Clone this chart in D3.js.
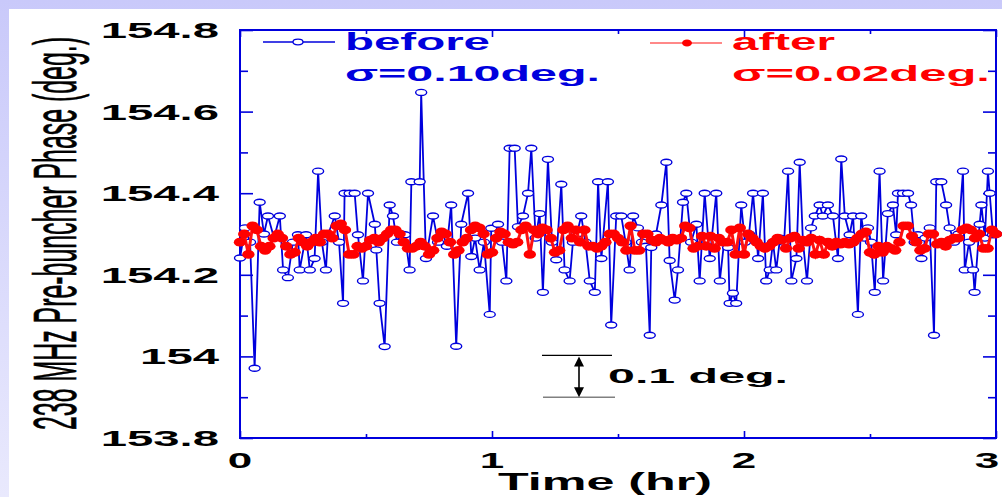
<!DOCTYPE html>
<html><head><meta charset="utf-8">
<script src="https://cdn.jsdelivr.net/npm/d3@7"></script>
<style>html,body{margin:0;padding:0;background:#fff}svg{display:block}</style>
</head><body>
<svg id="c" width="1002" height="497"></svg>
<script>
// ---------- data ----------
const yTicks = [153.8, 154.0, 154.2, 154.4, 154.6, 154.8];
const yTickLabels = ["153.8", "154", "154.2", "154.4", "154.6", "154.8"];
const yMinorTicks = [153.9, 154.1, 154.3, 154.5, 154.7];
const xTicks = [0, 1, 2, 3];
const xTickLabels = ["0", "1", "2", "3"];
const xMinorTicks = [0.5, 1.5, 2.5];

const beforeTime = [0.000,0.020,0.040,0.058,0.078,0.095,0.111,0.135,0.158,0.171,0.190,0.210,0.230,0.237,0.262,0.277,0.296,0.310,0.325,0.341,0.349,0.376,0.393,0.409,0.415,0.435,0.455,0.468,0.488,0.508,0.535,0.541,0.554,0.574,0.594,0.607,0.623,0.639,0.654,0.673,0.680,0.713,0.719,0.738,0.766,0.786,0.806,0.821,0.838,0.858,0.878,0.905,0.918,0.933,0.951,0.968,0.991,0.997,1.024,1.040,1.057,1.070,1.090,1.103,1.123,1.143,1.156,1.173,1.189,1.202,1.222,1.238,1.255,1.275,1.288,1.308,1.321,1.337,1.354,1.371,1.388,1.408,1.421,1.434,1.460,1.473,1.493,1.513,1.530,1.546,1.560,1.579,1.595,1.611,1.626,1.632,1.651,1.672,1.692,1.705,1.725,1.738,1.758,1.771,1.790,1.811,1.824,1.844,1.864,1.890,1.904,1.921,1.937,1.943,1.956,1.969,1.989,2.004,2.020,2.036,2.056,2.075,2.088,2.102,2.115,2.128,2.143,2.159,2.175,2.188,2.208,2.221,2.234,2.250,2.266,2.281,2.300,2.313,2.333,2.353,2.373,2.386,2.400,2.419,2.433,2.452,2.465,2.478,2.492,2.504,2.519,2.538,2.552,2.571,2.591,2.604,2.611,2.631,2.651,2.663,2.677,2.690,2.704,2.720,2.737,2.754,2.763,2.783,2.802,2.816,2.833,2.851,2.869,2.876,2.893,2.909,2.915,2.935,2.942,2.956,2.968,2.975,2.988,3.000];
const beforeValue = [154.241,154.315,154.28,153.971,154.378,154.30,154.344,154.29,154.344,154.212,154.193,154.28,154.298,154.212,154.298,154.212,154.240,154.454,154.28,154.212,154.298,154.344,154.28,154.130,154.400,154.400,154.400,154.298,154.185,154.400,154.324,154.261,154.130,154.024,154.371,154.344,154.28,154.30,154.298,154.212,154.428,154.428,154.647,154.240,154.344,154.28,154.30,154.27,154.371,154.025,154.324,154.400,154.245,154.29,154.212,154.28,154.103,154.314,154.324,154.28,154.185,154.510,154.510,154.318,154.344,154.400,154.510,154.29,154.350,154.157,154.483,154.28,154.237,154.422,154.212,154.185,154.28,154.30,154.344,154.28,154.185,154.157,154.428,154.240,154.428,154.077,154.344,154.344,154.28,154.212,154.344,154.315,154.28,154.27,154.052,154.267,154.30,154.371,154.476,154.235,154.138,154.212,154.378,154.400,154.28,154.324,154.185,154.400,154.240,154.400,154.185,154.28,154.267,154.130,154.155,154.130,154.371,154.28,154.30,154.400,154.240,154.400,154.185,154.212,154.28,154.212,154.29,154.28,154.454,154.185,154.240,154.476,154.28,154.185,154.315,154.344,154.371,154.344,154.371,154.344,154.240,154.484,154.344,154.298,154.344,154.103,154.344,154.29,154.315,154.28,154.157,154.454,154.185,154.350,154.371,154.298,154.400,154.400,154.400,154.371,154.28,154.298,154.240,154.29,154.315,154.052,154.428,154.428,154.371,154.315,154.28,154.30,154.454,154.212,154.28,154.212,154.157,154.324,154.371,154.29,154.454,154.400,154.298,154.30];

// "after": one reading per minute over 3 hours
const afterValue = [154.28,154.30,154.25,154.32,154.31,154.27,154.26,154.27,154.29,154.30,154.29,154.27,154.25,154.255,154.29,154.28,154.27,154.28,154.29,154.28,154.30,154.30,154.29,154.32,154.325,154.31,154.25,154.25,154.27,154.265,154.27,154.285,154.29,154.28,154.29,154.30,154.31,154.31,154.30,154.28,154.265,154.265,154.27,154.28,154.27,154.25,154.26,154.29,154.305,154.30,154.28,154.25,154.26,154.28,154.29,154.31,154.32,154.315,154.30,154.25,154.255,154.29,154.305,154.30,154.28,154.275,154.28,154.31,154.32,154.25,154.31,154.30,154.315,154.31,154.29,154.255,154.26,154.31,154.32,154.29,154.31,154.28,154.31,154.27,154.27,154.265,154.27,154.28,154.30,154.30,154.29,154.28,154.26,154.32,154.26,154.26,154.30,154.30,154.285,154.28,154.29,154.285,154.28,154.29,154.285,154.29,154.32,154.315,154.265,154.27,154.295,154.27,154.295,154.265,154.29,154.28,154.28,154.31,154.25,154.315,154.25,154.30,154.29,154.28,154.27,154.265,154.27,154.28,154.29,154.285,154.265,154.29,154.295,154.265,154.285,154.28,154.29,154.25,154.285,154.25,154.28,154.27,154.28,154.275,154.28,154.275,154.28,154.29,154.30,154.305,154.255,154.25,154.27,154.255,154.27,154.265,154.26,154.28,154.32,154.32,154.295,154.28,154.26,154.265,154.30,154.30,154.275,154.28,154.27,154.285,154.29,154.29,154.31,154.315,154.31,154.29,154.30,154.265,154.265,154.31,154.30];

const legendBefore = ["before", "σ=0.10deg."];
const legendAfter = ["after", "σ=0.02deg."];
const annotationRange = [153.9, 154.0];
const annotationLabel = "0.1 deg.";
const xTitle = "Time (hr)";
const yTitle = "238 MHz Pre-buncher Phase (deg.)";

// ---------- drawing ----------
const svg = d3.select("#c");
const FONT = "'Liberation Sans', Arial, sans-serif";
const BLUE = "#0000dd", RED = "#ff0000";

const defs = svg.append("defs");
const grad = defs.append("linearGradient").attr("id", "bg")
  .attr("x1", 0).attr("y1", 0).attr("x2", 0).attr("y2", 1);
grad.append("stop").attr("offset", "0").attr("stop-color", "#c9c9fa");
grad.append("stop").attr("offset", "1").attr("stop-color", "#e9e9fd");
svg.append("rect").attr("width", 1002).attr("height", 497).attr("fill", "url(#bg)");
svg.append("rect").attr("x", 9).attr("y", 9).attr("width", 993).attr("height", 488).attr("fill", "#fff");

const L = 240, R = 996, T = 30, B = 438;
const x = d3.scaleLinear().domain([0, 3]).range([L, R]);
const y = d3.scaleLinear().domain([153.8, 154.8]).range([B, T]);

function tickGroup(axis, tr) {
  const g = svg.append("g").attr("transform", tr).call(axis);
  g.select(".domain").remove();
  g.selectAll("text").remove();
  g.selectAll("line").attr("stroke", BLUE).attr("stroke-width", 1.6);
}
tickGroup(d3.axisLeft(y).tickValues(yTicks).tickSize(-13).tickFormat(""), `translate(${L},0)`);
tickGroup(d3.axisLeft(y).tickValues(yMinorTicks).tickSize(-8).tickFormat(""), `translate(${L},0)`);
tickGroup(d3.axisRight(y).tickValues(yTicks).tickSize(-13).tickFormat(""), `translate(${R},0)`);
tickGroup(d3.axisRight(y).tickValues(yMinorTicks).tickSize(-8).tickFormat(""), `translate(${R},0)`);
tickGroup(d3.axisBottom(x).tickValues(xTicks).tickSize(-7).tickFormat(""), `translate(0,${B})`);
tickGroup(d3.axisBottom(x).tickValues(xMinorTicks).tickSize(-4).tickFormat(""), `translate(0,${B})`);
tickGroup(d3.axisTop(x).tickValues(xTicks).tickSize(-7).tickFormat(""), `translate(0,${T})`);
tickGroup(d3.axisTop(x).tickValues(xMinorTicks).tickSize(-4).tickFormat(""), `translate(0,${T})`);

svg.append("rect").attr("x", L).attr("y", T).attr("width", R - L).attr("height", B - T)
  .attr("fill", "none").attr("stroke", BLUE).attr("stroke-width", 2);

// stretched text helpers (the picture is horizontally stretched)
function stretched(str, px, py, size, sx, anchor, color, weight) {
  return svg.append("text")
    .attr("font-family", FONT).attr("font-size", size).attr("font-weight", weight || "bold")
    .attr("fill", color || "#000").attr("text-anchor", anchor || "start")
    .attr("transform", `translate(${px},${py}) scale(${sx},1)`)
    .text(str);
}
function fitted(str, px, py, size, width, color, weight) {
  return svg.append("text").attr("x", px).attr("y", py)
    .attr("font-family", FONT).attr("font-size", size).attr("font-weight", weight || "bold")
    .attr("fill", color || "#000")
    .attr("textLength", width).attr("lengthAdjust", "spacingAndGlyphs").text(str);
}

// y tick labels
yTicks.forEach((v, i) => stretched(yTickLabels[i], 219, y(v) + 8, 22, 2.15, "end"));
// x tick labels
xTicks.forEach((v, i) => stretched(xTickLabels[i], Math.min(x(v), 987), 468, 22, 2.0, "middle"));
// axis titles
fitted(xTitle, 498, 490, 24, 214);
svg.append("text")
  .attr("font-family", FONT).attr("font-size", 24).attr("fill", "#000")
  .attr("stroke", "#000").attr("stroke-width", 0.25)
  .attr("transform", "translate(76,233.5) scale(2.55,1) rotate(-90)")
  .attr("x", -196.5).attr("textLength", 393).attr("lengthAdjust", "spacingAndGlyphs")
  .text(yTitle);

// before series
const beforeData = beforeTime.map((t, i) => ({t, v: beforeValue[i]}));
const line = d3.line().x(d => x(d.t)).y(d => y(d.v));
svg.append("path").datum(beforeData).attr("d", line)
  .attr("fill", "none").attr("stroke", BLUE).attr("stroke-width", 1.8);
svg.append("g").selectAll("ellipse").data(beforeData).join("ellipse")
  .attr("cx", d => x(d.t)).attr("cy", d => y(d.v)).attr("rx", 5.5).attr("ry", 3)
  .attr("fill", "#fff").attr("stroke", BLUE).attr("stroke-width", 1.4);

// after series
const afterData = afterValue.map((v, i) => ({t: i / 60, v}));
svg.append("path").datum(afterData).attr("d", line)
  .attr("fill", "none").attr("stroke", "#ff1010").attr("stroke-width", 3);
svg.append("g").selectAll("ellipse").data(afterData).join("ellipse")
  .attr("cx", d => x(d.t)).attr("cy", d => y(d.v)).attr("rx", 6.2).attr("ry", 4.4)
  .attr("fill", RED);

// legend
svg.append("line").attr("x1", 263).attr("x2", 335).attr("y1", 42).attr("y2", 42)
  .attr("stroke", BLUE).attr("stroke-width", 1.3);
svg.append("ellipse").attr("cx", 298).attr("cy", 42).attr("rx", 5).attr("ry", 2.8)
  .attr("fill", "#fff").attr("stroke", BLUE).attr("stroke-width", 1.3);
fitted(legendBefore[0], 345, 50, 23, 145, BLUE);
fitted(legendBefore[1], 345, 81, 22, 255, BLUE);

svg.append("line").attr("x1", 650).attr("x2", 722).attr("y1", 43).attr("y2", 43)
  .attr("stroke", "#ff6060").attr("stroke-width", 1.5);
svg.append("ellipse").attr("cx", 687).attr("cy", 43).attr("rx", 5).attr("ry", 3.5).attr("fill", RED);
fitted(legendAfter[0], 732, 50, 23, 103, RED);
fitted(legendAfter[1], 732, 81, 22, 258, RED);

// 0.1 deg annotation
const yTop = y(annotationRange[1]), yBot = y(annotationRange[0]);
svg.append("line").attr("x1", 542).attr("x2", 612).attr("y1", yTop - 1).attr("y2", yTop - 1)
  .attr("stroke", "#000").attr("stroke-width", 1.2);
svg.append("line").attr("x1", 543).attr("x2", 615).attr("y1", yBot).attr("y2", yBot)
  .attr("stroke", "#808080").attr("stroke-width", 1.5);
const ax = 579;
svg.append("line").attr("x1", ax).attr("x2", ax).attr("y1", yTop + 6).attr("y2", yBot - 6)
  .attr("stroke", "#000").attr("stroke-width", 1.6);
svg.append("path").attr("d", `M${ax},${yTop} L${ax - 5},${yTop + 10} L${ax + 5},${yTop + 10} Z`).attr("fill", "#000");
svg.append("path").attr("d", `M${ax},${yBot} L${ax - 5},${yBot - 10} L${ax + 5},${yBot - 10} Z`).attr("fill", "#000");
fitted(annotationLabel, 608, 383, 21, 180);
</script>
</body></html>
